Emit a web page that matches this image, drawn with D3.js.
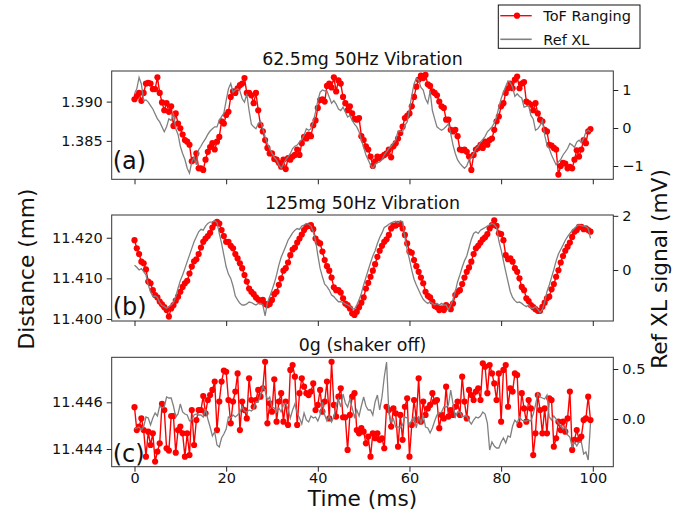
<!DOCTYPE html>
<html>
<head>
<meta charset="utf-8">
<script src="https://cdn.jsdelivr.net/npm/d3@7"></script>
<style>
  body { margin: 0; background: #fff; }
  svg text { font-family: "DejaVu Sans", sans-serif; fill: #111; }
</style>
</head>
<body>
<svg id="chart"></svg>
<script>
// sampling grid: 200 samples, 0.5 ms apart
const sampleMs = 0.5;
const timeMs = d3.range(0, 100, sampleMs);

const titles = ['62.5mg 50Hz Vibration', '125mg 50Hz Vibration', '0g (shaker off)'];
const tags = ['(a)', '(b)', '(c)'];
const xTicks = [0, 20, 40, 60, 80, 100];
const leftTicks = [[1.385, 1.390], [11.400, 11.410, 11.420], [11.444, 11.446]];
const rightTicks = [[-1, 0, 1], [0, 2], [0.0, 0.5]];

// ToF ranging distance (mm), panel (a)
const tofA = [
  1.3903,1.3907,1.3911,1.3901,1.3911,1.3923,1.3924,1.3923,1.3916,1.3916,
  1.3931,1.3911,1.3899,1.3889,1.3898,1.3887,1.3894,1.3869,1.3885,1.3872,
  1.3866,1.3858,1.3851,1.3849,1.3845,1.3824,1.3826,1.3834,1.3815,1.3815,
  1.3813,1.3826,1.3836,1.3842,1.3847,1.3839,1.3849,1.3855,1.3875,1.3872,
  1.3883,1.3887,1.3906,1.3913,1.3911,1.3917,1.3921,1.3923,1.3930,1.3911,
  1.3911,1.3908,1.3898,1.3911,1.3889,1.3870,1.3862,1.3851,1.3841,1.3834,
  1.3834,1.3827,1.3826,1.3822,1.3817,1.3826,1.3814,1.3828,1.3826,1.3830,
  1.3832,1.3839,1.3832,1.3847,1.3855,1.3853,1.3858,1.3856,1.3870,1.3876,
  1.3892,1.3902,1.3903,1.3900,1.3920,1.3923,1.3918,1.3931,1.3913,1.3927,
  1.3923,1.3906,1.3898,1.3889,1.3894,1.3885,1.3878,1.3877,1.3879,1.3856,
  1.3851,1.3843,1.3839,1.3830,1.3818,1.3824,1.3830,1.3828,1.3830,1.3832,
  1.3834,1.3839,1.3829,1.3843,1.3847,1.3853,1.3860,1.3868,1.3879,1.3882,
  1.3885,1.3894,1.3906,1.3919,1.3928,1.3933,1.3930,1.3934,1.3922,1.3920,
  1.3913,1.3911,1.3908,1.3900,1.3894,1.3892,1.3877,1.3877,1.3864,1.3862,
  1.3864,1.3856,1.3839,1.3838,1.3839,1.3836,1.3830,1.3813,1.3832,1.3839,
  1.3841,1.3845,1.3841,1.3849,1.3845,1.3851,1.3853,1.3864,1.3875,1.3881,
  1.3894,1.3898,1.3911,1.3917,1.3923,1.3917,1.3928,1.3932,1.3917,1.3923,
  1.3925,1.3900,1.3898,1.3896,1.3889,1.3898,1.3885,1.3877,1.3875,1.3864,
  1.3862,1.3845,1.3844,1.3841,1.3839,1.3807,1.3818,1.3822,1.3821,1.3815,
  1.3817,1.3815,1.3826,1.3838,1.3830,1.3839,1.3851,1.3847,1.3862,1.3865
];
// reference accelerometer signal (mV), panel (a)
const refA = [
  0.90,1.03,1.33,1.16,0.72,0.74,0.68,0.59,0.50,0.37,
  0.24,0.16,0.03,-0.10,0.03,0.24,0.20,0.36,-0.02,-0.17,
  -0.48,-0.67,-0.83,-1.06,-1.19,-0.89,-0.77,-0.97,-0.57,-0.48,
  -0.37,-0.28,-0.17,-0.08,-0.02,0.03,0.03,0.20,0.30,0.39,
  0.72,1.03,1.17,0.94,1.00,1.03,0.98,0.77,0.68,0.90,
  0.46,0.10,0.03,-0.02,0.11,0.18,-0.02,-0.23,-0.41,-0.54,
  -0.67,-0.77,-0.84,-0.97,-1.06,-0.95,-0.84,-0.76,-0.67,-0.54,
  -0.48,-0.45,-0.37,-0.30,-0.19,-0.02,-0.06,-0.02,0.16,0.42,
  0.72,0.94,1.00,0.98,0.97,0.81,0.65,0.72,0.63,0.50,
  0.46,0.55,0.42,0.29,0.33,0.20,0.10,0.03,-0.10,-0.32,
  -0.51,-0.71,-0.84,-0.97,-1.06,-0.95,-0.91,-0.89,-0.84,-0.71,
  -0.63,-0.54,-0.48,-0.39,-0.32,-0.08,-0.08,-0.10,0.07,0.16,
  0.50,0.85,1.16,1.31,1.26,1.07,1.00,0.77,0.65,0.97,
  0.46,0.24,0.03,-0.02,-0.06,-0.02,0.04,0.11,-0.15,-0.45,
  -0.67,-0.84,-0.93,-1.00,-1.06,-1.00,-0.84,-0.77,-0.67,-0.54,
  -0.48,-0.37,-0.30,-0.22,-0.10,-0.04,0.03,0.13,0.29,0.55,
  0.77,0.94,1.09,1.24,1.20,1.07,0.83,0.90,0.83,0.79,
  0.55,0.57,0.59,0.33,0.24,-0.06,-0.02,0.07,0.20,-0.19,
  -0.45,-0.54,-0.71,-0.84,-0.97,-0.89,-0.83,-0.71,-0.63,-0.54,
  -0.41,-0.45,-0.51,-0.37,-0.32,-0.39,-0.28,-0.10,-0.06,-0.10
];

// panel (b)
const tofB = [
  11.4194,11.4174,11.4160,11.4141,11.4137,11.4122,11.4092,11.4088,11.4071,11.4059,
  11.4053,11.4043,11.4036,11.4029,11.4022,11.4006,11.4026,11.4034,11.4045,11.4055,
  11.4067,11.4079,11.4088,11.4094,11.4112,11.4129,11.4142,11.4147,11.4160,11.4176,
  11.4190,11.4198,11.4204,11.4212,11.4225,11.4235,11.4239,11.4235,11.4219,11.4204,
  11.4190,11.4190,11.4180,11.4174,11.4160,11.4149,11.4137,11.4125,11.4108,11.4092,
  11.4075,11.4067,11.4061,11.4053,11.4048,11.4043,11.4047,11.4037,11.4034,11.4037,
  11.4047,11.4061,11.4067,11.4084,11.4100,11.4119,11.4125,11.4139,11.4157,11.4171,
  11.4176,11.4188,11.4198,11.4208,11.4219,11.4227,11.4229,11.4231,11.4221,11.4198,
  11.4189,11.4186,11.4166,11.4145,11.4130,11.4119,11.4102,11.4078,11.4071,11.4071,
  11.4065,11.4051,11.4038,11.4034,11.4026,11.4014,11.4010,11.4018,11.4029,11.4040,
  11.4053,11.4075,11.4089,11.4104,11.4119,11.4135,11.4153,11.4168,11.4180,11.4190,
  11.4196,11.4207,11.4223,11.4230,11.4230,11.4234,11.4234,11.4223,11.4207,11.4186,
  11.4166,11.4163,11.4145,11.4130,11.4116,11.4102,11.4088,11.4067,11.4057,11.4053,
  11.4043,11.4032,11.4029,11.4022,11.4026,11.4022,11.4034,11.4030,11.4024,11.4038,
  11.4059,11.4067,11.4071,11.4086,11.4102,11.4116,11.4127,11.4141,11.4160,11.4174,
  11.4180,11.4188,11.4196,11.4201,11.4209,11.4223,11.4231,11.4243,11.4229,11.4211,
  11.4209,11.4194,11.4157,11.4147,11.4149,11.4141,11.4125,11.4116,11.4100,11.4079,
  11.4071,11.4051,11.4044,11.4034,11.4029,11.4024,11.4020,11.4020,11.4030,11.4040,
  11.4051,11.4055,11.4073,11.4086,11.4104,11.4120,11.4139,11.4155,11.4168,11.4178,
  11.4188,11.4202,11.4215,11.4219,11.4227,11.4227,11.4221,11.4223,11.4219,11.4215
];
const refB = [
  0.18,0.10,0.00,0.05,-0.06,-0.18,-0.55,-0.80,-0.98,-0.96,
  -1.01,-1.20,-1.31,-1.35,-1.41,-1.35,-1.29,-1.20,-0.98,-0.67,
  -0.39,-0.18,0.06,0.31,0.55,0.80,1.04,1.23,1.41,1.50,
  1.47,1.62,1.72,1.77,1.78,1.82,1.75,1.35,0.98,0.55,
  0.12,-0.15,-0.31,-0.59,-0.96,-1.10,-1.23,-1.29,-1.29,-1.25,
  -1.18,-1.20,-1.25,-1.29,-1.23,-1.23,-1.29,-1.69,-1.20,-0.98,
  -0.74,-0.49,-0.18,0.18,0.47,0.67,0.88,1.10,1.23,1.37,
  1.47,1.53,1.50,1.62,1.66,1.72,1.69,1.62,1.41,1.10,
  0.55,0.06,-0.25,-0.52,-0.61,-0.74,-0.92,-0.98,-1.08,-1.17,
  -1.17,-1.20,-1.25,-1.29,-1.33,-1.41,-1.45,-1.29,-1.10,-0.86,
  -0.55,-0.27,0.00,0.27,0.52,0.71,0.98,1.20,1.37,1.57,
  1.62,1.69,1.74,1.78,1.80,1.74,1.82,1.78,1.20,0.74,
  0.39,0.00,-0.34,-0.55,-0.74,-0.92,-1.08,-1.17,-1.23,-1.18,
  -1.23,-1.29,-1.23,-1.29,-1.23,-1.29,-1.29,-1.47,-1.29,-1.08,
  -0.80,-0.43,-0.18,0.10,0.34,0.52,0.83,1.13,1.35,1.41,
  1.35,1.47,1.52,1.57,1.62,1.67,1.72,1.68,1.57,1.08,
  0.74,0.34,-0.06,-0.43,-0.80,-1.01,-1.13,-1.20,-1.18,-1.23,
  -1.30,-1.35,-1.29,-1.41,-1.41,-1.35,-1.45,-1.57,-1.45,-1.17,
  -0.80,-0.55,-0.27,0.02,0.34,0.59,0.76,0.92,1.10,1.23,
  1.35,1.45,1.53,1.62,1.66,1.64,1.62,1.60,1.53,1.17
];

// panel (c)
const tofC = [
  11.44579,11.44481,11.44496,11.44531,11.44481,11.44367,11.44474,11.44417,11.44467,11.44346,
  11.44389,11.44424,11.44593,11.44567,11.44403,11.44393,11.44541,11.44541,11.44384,11.44481,
  11.44496,11.44467,11.44367,11.44467,11.44374,11.44567,11.44417,11.44524,11.44567,11.44567,
  11.44627,11.44553,11.44610,11.44631,11.44653,11.44689,11.44481,11.44603,11.44689,11.44736,
  11.44731,11.44610,11.44510,11.44603,11.44646,11.44724,11.44481,11.44603,11.44567,11.44531,
  11.44703,11.44610,11.44581,11.44610,11.44653,11.44624,11.44660,11.44774,11.44510,11.44596,
  11.44560,11.44699,11.44517,11.44603,11.44639,11.44517,11.44603,11.44503,11.44739,11.44760,
  11.44710,11.44503,11.44639,11.44703,11.44667,11.44639,11.44631,11.44646,11.44681,11.44567,
  11.44589,11.44653,11.44560,11.44603,11.44689,11.44531,11.44774,11.44589,11.44539,11.44624,
  11.44660,11.44536,11.44536,11.44396,11.44546,11.44624,11.44639,11.44481,11.44467,11.44489,
  11.44474,11.44424,11.44453,11.44367,11.44467,11.44446,11.44467,11.44439,11.44446,11.44403,
  11.44581,11.44567,11.44496,11.44574,11.44553,11.44410,11.44546,11.44439,11.44581,11.44617,
  11.44367,11.44503,11.44610,11.44524,11.44703,11.44517,11.44603,11.44546,11.44574,11.44589,
  11.44639,11.44603,11.44610,11.44489,11.44546,11.44531,11.44667,11.44539,11.44567,11.44546,
  11.44581,11.44603,11.44546,11.44710,11.44603,11.44531,11.44653,11.44631,11.44610,11.44646,
  11.44660,11.44610,11.44767,11.44753,11.44639,11.44760,11.44724,11.44681,11.44610,11.44724,
  11.44517,11.44739,11.44760,11.44581,11.44660,11.44646,11.44724,11.44717,11.44503,11.44639,
  11.44574,11.44517,11.44610,11.44574,11.44374,11.44467,11.44631,11.44567,11.44467,11.44574,
  11.44467,11.44617,11.44610,11.44410,11.44446,11.44517,11.44481,11.44517,11.44474,11.44531,
  11.44646,11.44396,11.44439,11.44481,11.44439,11.44453,11.44524,11.44531,11.44624,11.44524
];
const refC = [
  -0.10,-0.09,-0.08,-0.11,-0.08,0.02,0.01,-0.06,0.01,0.06,
  0.03,0.13,0.11,0.12,0.22,0.21,0.21,0.13,0.02,0.05,
  0.15,0.07,0.05,0.04,-0.02,-0.01,0.04,0.05,0.04,0.04,
  0.02,0.10,0.00,-0.08,-0.17,-0.13,-0.26,-0.28,-0.19,-0.15,
  -0.10,0.02,0.01,0.04,0.02,0.04,0.07,0.12,0.08,0.07,
  0.09,0.08,0.10,0.17,0.17,0.24,0.33,0.28,0.19,0.22,
  0.12,0.11,0.07,0.11,0.07,0.14,0.16,0.10,0.01,0.09,
  0.15,0.06,0.01,-0.05,0.06,-0.01,-0.03,0.03,0.01,0.02,
  -0.02,0.04,0.17,0.04,-0.02,0.03,-0.03,0.02,0.14,0.20,
  0.12,0.25,0.16,0.12,0.20,0.11,0.02,0.09,0.03,0.13,
  0.22,0.13,0.09,0.09,0.04,0.17,0.24,0.09,0.22,0.42,
  0.57,0.06,-0.03,0.00,-0.08,-0.08,-0.09,-0.06,0.02,0.01,
  -0.06,-0.01,0.02,-0.09,0.03,-0.04,0.04,-0.08,-0.09,-0.14,
  -0.09,-0.02,0.04,0.06,0.07,0.12,0.12,0.14,0.29,0.15,
  0.02,0.07,0.07,0.02,0.03,0.03,-0.02,-0.05,-0.01,0.02,
  0.01,0.03,0.07,0.05,-0.04,-0.31,-0.23,-0.27,-0.29,-0.29,
  -0.23,-0.19,-0.24,-0.17,-0.18,-0.07,-0.01,-0.04,0.02,-0.01,
  -0.02,-0.02,-0.01,-0.02,0.05,0.14,0.26,0.22,0.21,0.20,
  0.24,0.02,-0.01,0.03,0.00,-0.04,-0.07,-0.10,-0.08,-0.16,
  -0.18,-0.28,-0.23,-0.27,-0.23,-0.23,-0.35,-0.33,-0.41,-0.04
];

const tofSeries = [tofA, tofB, tofC];
const refSeries = [refA, refB, refC];

// ---- layout ----
const width = 684, height = 514;
const plotLeft = 111.7, plotRight = 613.3;
const panels = [
  { top: 71,    bottom: 179.3, leftDomain: [1.3801, 1.3939],     rightDomain: [-1.35, 1.50],  leftFmt: '.3f', rightFmt: 'd',   tagY: 168.5 },
  { top: 215,   bottom: 321,   leftDomain: [11.3995, 11.4256],   rightDomain: [-1.88, 2.03],  leftFmt: '.3f', rightFmt: 'd',   tagY: 315 },
  { top: 357.3, bottom: 466.7, leftDomain: [11.44324, 11.44793], rightDomain: [-0.477, 0.617], leftFmt: '.3f', rightFmt: '.1f', tagY: 462 }
];
const tickFont = 14.5, titleFont = 17.4, labelFont = 21.7;
const red = '#ff0000', grey = '#808080';

const svg = d3.select('#chart')
              .attr('width', width)
              .attr('height', height);

const x = d3.scaleLinear()
            .domain([-4.975, 104.475])
            .range([plotLeft, plotRight]);

function styleAxis(g) {
  g.attr('font-size', tickFont).attr('font-family', '"DejaVu Sans", sans-serif');
  g.select('.domain').remove();
  g.selectAll('.tick line').attr('stroke', '#222').attr('stroke-width', 1);
  g.selectAll('.tick text').attr('fill', '#111');
}

panels.forEach((p, i) => {
  const yL = d3.scaleLinear().domain(p.leftDomain).range([p.bottom, p.top]);
  const yR = d3.scaleLinear().domain(p.rightDomain).range([p.bottom, p.top]);
  const tof = tofSeries[i], ref = refSeries[i];

  const clipId = 'clip' + i;
  svg.append('clipPath').attr('id', clipId)
     .append('rect')
     .attr('x', plotLeft).attr('y', p.top)
     .attr('width', plotRight - plotLeft).attr('height', p.bottom - p.top);

  const g = svg.append('g');
  const plotArea = g.append('g').attr('clip-path', `url(#${clipId})`);

  // ToF ranging: red line with dots
  plotArea.append('path')
          .datum(tof)
          .attr('fill', 'none')
          .attr('stroke', red)
          .attr('stroke-width', 1.4)
          .attr('d', d3.line().x((d, j) => x(timeMs[j])).y(d => yL(d)));

  plotArea.selectAll('.dot')
          .data(tof)
          .enter()
          .append('circle')
          .attr('class', 'dot')
          .attr('cx', (d, j) => x(timeMs[j]))
          .attr('cy', d => yL(d))
          .attr('r', 3.1)
          .attr('fill', red);

  // reference accelerometer: grey line on the twin axis
  plotArea.append('path')
          .datum(ref)
          .attr('fill', 'none')
          .attr('stroke', grey)
          .attr('stroke-width', 1.3)
          .attr('d', d3.line().x((d, j) => x(timeMs[j])).y(d => yR(d)));

  // frame
  g.append('rect')
   .attr('x', plotLeft).attr('y', p.top)
   .attr('width', plotRight - plotLeft).attr('height', p.bottom - p.top)
   .attr('fill', 'none')
   .attr('stroke', '#333')
   .attr('stroke-width', 1);

  // axes
  g.append('g')
   .attr('transform', `translate(${plotLeft},0)`)
   .call(d3.axisLeft(yL).tickValues(leftTicks[i]).tickSize(5).tickPadding(4).tickFormat(d3.format(p.leftFmt)))
   .call(styleAxis);

  g.append('g')
   .attr('transform', `translate(${plotRight},0)`)
   .call(d3.axisRight(yR).tickValues(rightTicks[i]).tickSize(5).tickPadding(4).tickFormat(d3.format(p.rightFmt)))
   .call(styleAxis);

  const xAxis = g.append('g')
                 .attr('transform', `translate(0,${p.bottom})`)
                 .call(d3.axisBottom(x).tickValues(xTicks).tickSize(5).tickPadding(1))
                 .call(styleAxis);
  if (i < panels.length - 1) xAxis.selectAll('.tick text').remove();

  // title and panel tag
  svg.append('text')
     .attr('x', (plotLeft + plotRight) / 2)
     .attr('y', p.top - 6.5)
     .attr('text-anchor', 'middle')
     .attr('font-size', titleFont)
     .text(titles[i]);

  svg.append('text')
     .attr('x', plotLeft + 1)
     .attr('y', p.tagY)
     .attr('font-size', 24)
     .text(tags[i]);
});

// axis labels
svg.append('text')
   .attr('transform', 'translate(33.5,269) rotate(-90)')
   .attr('text-anchor', 'middle')
   .attr('font-size', labelFont)
   .text('Distance (mm)');

svg.append('text')
   .attr('transform', 'translate(667,269) rotate(-90)')
   .attr('text-anchor', 'middle')
   .attr('font-size', labelFont)
   .text('Ref XL signal (mV)');

svg.append('text')
   .attr('x', (plotLeft + plotRight) / 2)
   .attr('y', 506)
   .attr('text-anchor', 'middle')
   .attr('font-size', labelFont)
   .text('Time (ms)');

// legend
const legend = svg.append('g').attr('transform', 'translate(498.3,5)');
legend.append('rect')
      .attr('width', 141.7).attr('height', 43.3)
      .attr('fill', '#fff').attr('stroke', '#111').attr('stroke-width', 1);
const legendItems = [
  { label: 'ToF Ranging', color: red, dot: true },
  { label: 'Ref XL', color: grey, dot: false }
];
legendItems.forEach((item, k) => {
  const cy = 10.7 + k * 23.6;
  legend.append('line')
        .attr('x1', 2).attr('x2', 33.4).attr('y1', cy).attr('y2', cy)
        .attr('stroke', item.color).attr('stroke-width', item.dot ? 1.4 : 1.6);
  if (item.dot) {
    legend.append('circle').attr('cx', 18.7).attr('cy', cy).attr('r', 3.1).attr('fill', item.color);
  }
  legend.append('text')
        .attr('x', 45)
        .attr('y', cy + 5.2)
        .attr('font-size', tickFont)
        .text(item.label);
});
</script>
</body>
</html>
